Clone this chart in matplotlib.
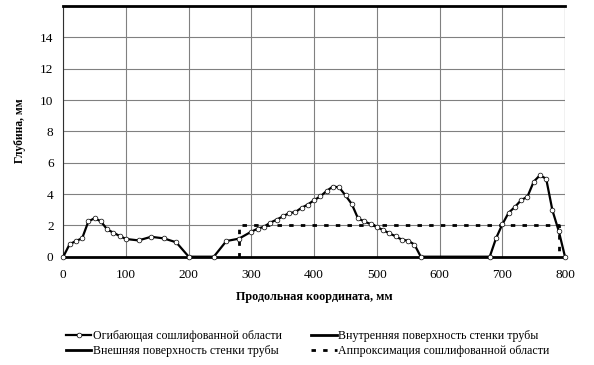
import matplotlib
matplotlib.use("Agg")
import matplotlib.pyplot as plt
import numpy as np

plt.rcParams['font.family'] = ['Liberation Serif', 'DejaVu Serif']

# Envelope of ground area (x in mm, depth in mm)
env_x = [0, 10, 20, 30, 40, 50, 60, 70, 80, 90, 100, 120, 140, 160, 180, 200,
         240, 260, 280, 300, 310, 320, 330, 340, 350, 360, 370, 380, 390, 400,
         410, 420, 430, 440, 450, 460, 470, 480, 490, 500, 510, 520, 530, 540,
         550, 560, 570,
         680, 690, 700, 710, 720, 730, 740, 750, 760, 770, 780, 790, 800]
env_y = [0, 0.79, 1.0, 1.17, 2.25, 2.46, 2.25, 1.74, 1.53, 1.32, 1.13, 1.04, 1.27, 1.17, 0.92, 0,
         0, 1.0, 1.15, 1.6, 1.79, 1.91, 2.17, 2.36, 2.57, 2.78, 2.85, 3.12, 3.33, 3.61,
         3.85, 4.2, 4.48, 4.42, 3.91, 3.36, 2.44, 2.25, 2.08, 1.89, 1.70, 1.49, 1.30, 1.08,
         1.02, 0.77, 0,
         0, 1.17, 2.06, 2.8, 3.17, 3.61, 3.82, 4.78, 5.2, 4.97, 2.95, 1.64, 0]

# Wall surfaces
outer_x = [0, 800]
outer_y = [0, 0]
inner_x = [0, 800]
inner_y = [16, 16]

# Approximation of ground area
appr_x = [280, 280, 790, 790]
appr_y = [0, 2.05, 2.05, 0]

xticks = [0, 100, 200, 300, 400, 500, 600, 700, 800]
yticks = [0, 2, 4, 6, 8, 10, 12, 14]

fig = plt.figure(figsize=(5.94, 3.65), dpi=100)
ax = fig.add_axes([63.3/594, 1-256.7/365, (565-63.3)/594, (256.7-6)/365])

ax.set_xlim(0, 800)
ax.set_ylim(0, 16)
ax.set_xticks(xticks)
ax.set_yticks(yticks)
ax.grid(True, color='#808080', lw=0.8)
ax.set_axisbelow(True)
for s in ['top', 'right', 'bottom']:
    ax.spines[s].set_visible(False)
ax.spines['left'].set_color('#303030')
ax.spines['left'].set_linewidth(0.8)
ax.tick_params(length=0, labelsize=9.5)
ax.tick_params(axis='y', pad=7)
ax.tick_params(axis='x', pad=9)
ax.axvline(800, color='#808080', lw=0.8)

l_env, = ax.plot(env_x, env_y, color='black', lw=1.6, marker='o', ms=3.4,
                 mfc='white', mec='black', mew=0.5, zorder=5, clip_on=False)
l_in, = ax.plot(inner_x, inner_y, color='black', lw=2.0, clip_on=False, zorder=4)
l_out, = ax.plot(outer_x, outer_y, color='black', lw=2.0, clip_on=False, zorder=4)
l_ap, = ax.plot(appr_x, appr_y, color='black', lw=2.0, ls=(0, (1.6, 2.6)), zorder=3)

fig.text(20/594, 1-131/365, 'Глубина, мм', fontsize=8.3, fontweight='bold',
         rotation=90, ha='center', va='center')
fig.text(314/594, 1-297/365, 'Продольная координата, мм', fontsize=8.7,
         fontweight='bold', ha='center', va='center')

leg = fig.legend([l_env, l_out, l_in, l_ap],
                 ['Огибающая сошлифованной области', 'Внешняя поверхность стенки трубы',
                  'Внутренняя поверхность стенки трубы', 'Аппроксимация сошлифованной области'],
                 ncol=2, loc='center', bbox_to_anchor=(308/594, 1-343.5/365),
                 frameon=False, fontsize=8.6, handlelength=2.1, handletextpad=0.15,
                 columnspacing=2.45, labelspacing=0.3, borderpad=0)

fig.savefig('out.png', dpi=100)
